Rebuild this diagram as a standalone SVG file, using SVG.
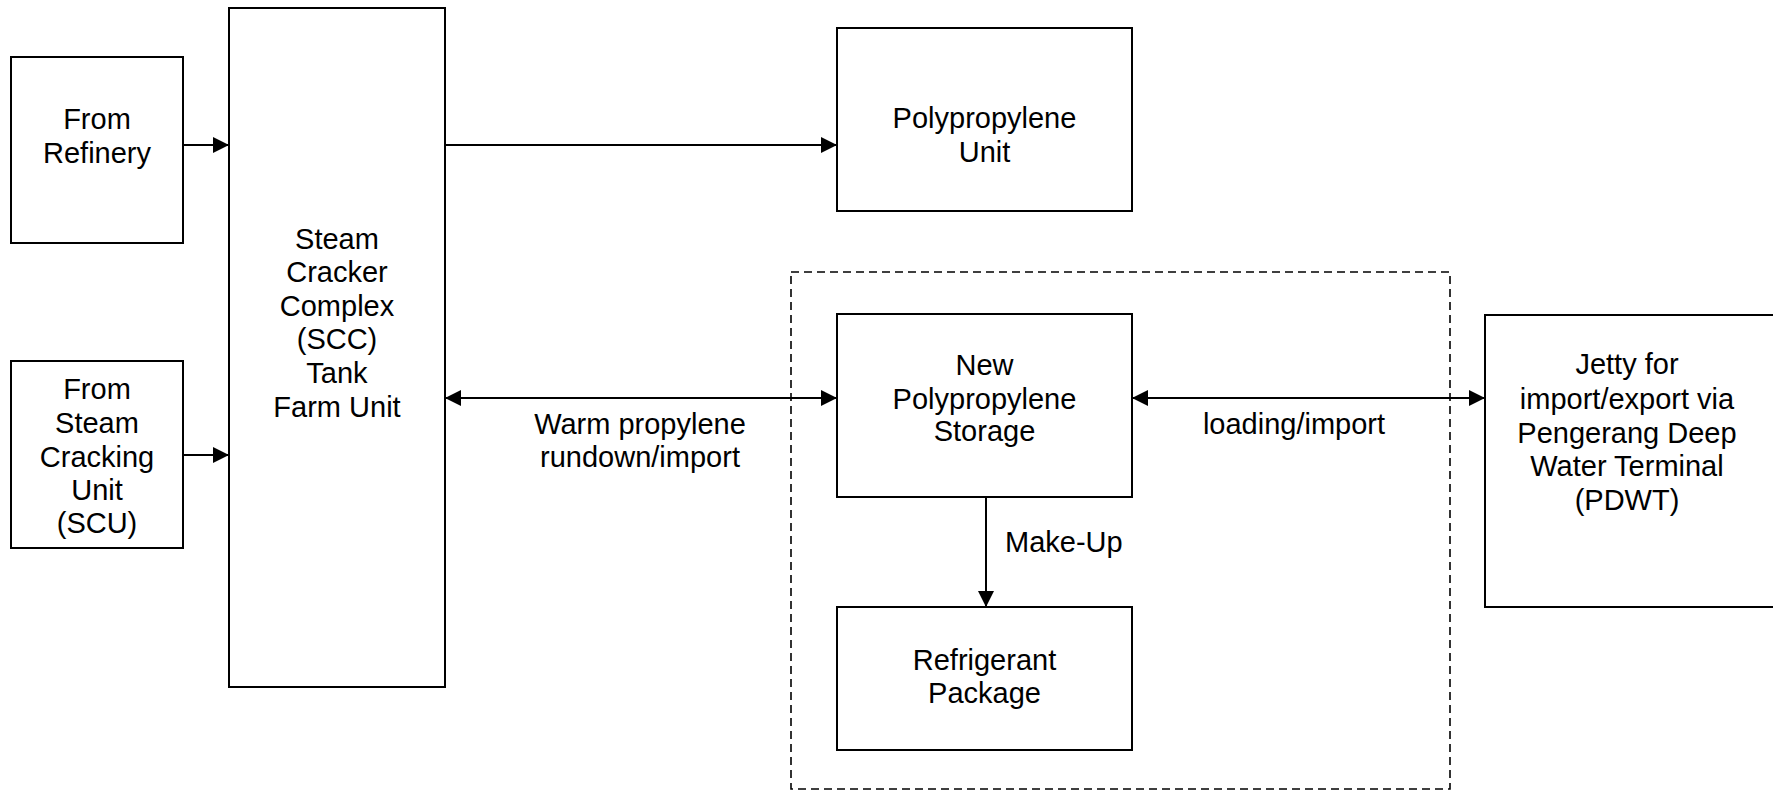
<svg xmlns="http://www.w3.org/2000/svg" width="1773" height="791" viewBox="0 0 1773 791">
<defs>
<style>
.box{fill:#fff;stroke:#000;stroke-width:2}
.t{font-family:"Liberation Sans",Arial,sans-serif;font-size:29px;fill:#000;text-anchor:middle}
.ln{fill:none;stroke:#000;stroke-width:2}
.dash{fill:none;stroke:#000;stroke-width:1.6;stroke-dasharray:8 5}
</style>
<marker id="ah" viewBox="0 0 16 16" refX="16" refY="8" markerWidth="16" markerHeight="16" markerUnits="userSpaceOnUse" orient="auto-start-reverse">
<path d="M0,0 L16,8 L0,16 Z" fill="#000"/>
</marker>
</defs>
<rect width="1773" height="791" fill="#fff"/>
<g id="boundary">
<rect class="dash" x="791" y="272" width="659" height="517"/>
</g>
<g id="refinery">
<rect class="box" x="11" y="57" width="172" height="186"/>
<text class="t" x="97" y="129">From</text>
<text class="t" x="97" y="163">Refinery</text>
</g>
<g id="scu">
<rect class="box" x="11" y="361" width="172" height="187"/>
<text class="t" x="97" y="399">From</text>
<text class="t" x="97" y="433">Steam</text>
<text class="t" x="97" y="467">Cracking</text>
<text class="t" x="97" y="500">Unit</text>
<text class="t" x="97" y="533">(SCU)</text>
</g>
<g id="scc">
<rect class="box" x="229" y="8" width="216" height="679"/>
<text class="t" x="337" y="249">Steam</text>
<text class="t" x="337" y="282">Cracker</text>
<text class="t" x="337" y="316">Complex</text>
<text class="t" x="337" y="349">(SCC)</text>
<text class="t" x="337" y="383">Tank</text>
<text class="t" x="337" y="417">Farm Unit</text>
</g>
<g id="pp-unit">
<rect class="box" x="837" y="28" width="295" height="183"/>
<text class="t" x="984.5" y="128">Polypropylene</text>
<text class="t" x="984.5" y="162">Unit</text>
</g>
<g id="pp-storage">
<rect class="box" x="837" y="314" width="295" height="183"/>
<text class="t" x="984.5" y="375">New</text>
<text class="t" x="984.5" y="409">Polypropylene</text>
<text class="t" x="984.5" y="441">Storage</text>
</g>
<g id="refrigerant">
<rect class="box" x="837" y="607" width="295" height="143"/>
<text class="t" x="984.5" y="670">Refrigerant</text>
<text class="t" x="984.5" y="703">Package</text>
</g>
<g id="jetty">
<rect class="box" x="1485" y="315" width="292" height="292"/>
<text class="t" x="1627" y="374">Jetty for</text>
<text class="t" x="1627" y="409">import/export via</text>
<text class="t" x="1627" y="443">Pengerang Deep</text>
<text class="t" x="1627" y="476">Water Terminal</text>
<text class="t" x="1627" y="510">(PDWT)</text>
</g>
<g id="connectors">
<line class="ln" x1="183" y1="145" x2="229" y2="145" marker-end="url(#ah)"/>
<line class="ln" x1="183" y1="455" x2="229" y2="455" marker-end="url(#ah)"/>
<line class="ln" x1="445" y1="145" x2="837" y2="145" marker-end="url(#ah)"/>
<line class="ln" x1="445" y1="398" x2="837" y2="398" marker-start="url(#ah)" marker-end="url(#ah)"/>
<line class="ln" x1="1132" y1="398" x2="1485" y2="398" marker-start="url(#ah)" marker-end="url(#ah)"/>
<line class="ln" x1="986" y1="497" x2="986" y2="607" marker-end="url(#ah)"/>
<text class="t" x="640" y="434">Warm propylene</text>
<text class="t" x="640" y="467">rundown/import</text>
<text class="t" x="1294" y="434">loading/import</text>
<text class="t" x="1005" y="552" style="text-anchor:start">Make-Up</text>
</g>
</svg>
